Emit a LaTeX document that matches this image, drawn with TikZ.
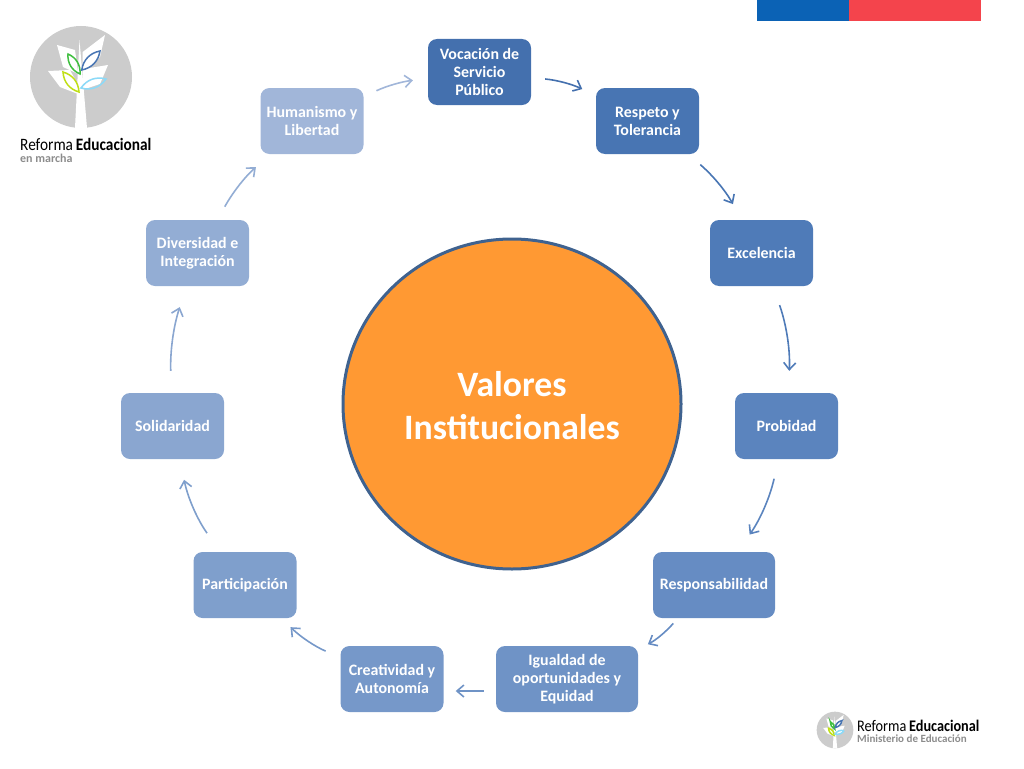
\documentclass[tikz,border=0pt]{standalone}
\usepackage{fontspec}
\setmainfont{Carlito}
\newfontfamily\logofont[FakeStretch=0.88]{Carlito}
\usetikzlibrary{arrows.meta,shapes.geometric}
\definecolor{naranja}{HTML}{FF9933}
\definecolor{borde}{HTML}{3F628F}
\definecolor{gris}{HTML}{CCCCCC}
\definecolor{grislogo}{HTML}{8C8C8C}
\definecolor{c0}{HTML}{4470AE}
\definecolor{c1}{HTML}{4875B3}
\definecolor{c2}{HTML}{4F7BB8}
\definecolor{c3}{HTML}{5B84BE}
\definecolor{c4}{HTML}{668CC3}
\definecolor{c5}{HTML}{6F93C6}
\definecolor{c6}{HTML}{7698C9}
\definecolor{c7}{HTML}{7F9FCC}
\definecolor{c8}{HTML}{8AA6D0}
\definecolor{c9}{HTML}{93ADD4}
\definecolor{c10}{HTML}{A1B6D9}
\tikzset{
  valor/.style={rounded corners=9pt,minimum height=66pt,minimum width=103pt,inner sep=0pt,
    text=white,align=center,font=\fontsize{15.9}{18}\selectfont\bfseries},
  flecha/.style={-{Straight Barb[length=7pt,width=12pt]},line width=1.6pt},
  arbol/.pic={
    \fill[gris] (0,0) circle (51);
    \fill[white] (-6,51) -- (-1.5,-37) -- (6,51) -- cycle;
    \fill[white] (1.7,-3) -- (1.7,-25) -- (24,-42) -- (19,-20) -- cycle;
    \fill[white] (-2.7,-3) -- (-18,-10) -- (-24,-32) -- (-6,-27) -- cycle;
    \fill[white] (2.3,-8) -- (27,-12) -- (19,7) -- (0.7,13) -- cycle;
    \fill[white] (-33,-6) -- (-11,-7) -- (-3,8) -- (-3,17) -- (-21,10) -- cycle;
    \draw[green!50!gray,line width=1.5pt] (-13,-23) to[bend left=35] (-1,-3) to[bend left=35] cycle;
    \draw[c1,line width=1.5pt] (19,-26) to[bend left=35] (0.7,-7) to[bend left=35] cycle;
    \draw[yellow!75!green,line width=1.5pt] (-18,-5) to[bend left=35] (-2,15) to[bend left=35] cycle;
    \draw[cyan!45!white,line width=1.5pt] (25,2) to[bend left=35] (0,11) to[bend left=35] cycle;
  }
}
\begin{document}
\begin{tikzpicture}[x=1pt,y=-1pt]
\useasboundingbox (0,0) rectangle (1024,768);
% barra superior
\fill[fill={rgb,255:red,11;green,98;blue,181}] (757,0) rectangle (849,21);
\fill[fill={rgb,255:red,244;green,68;blue,76}] (849,0) rectangle (981,21);
% logos
\pic at (81,77) {arbol};
\node[anchor=base west,inner sep=0pt,font=\logofont\fontsize{17.4}{18}\selectfont] (LogoA) at (20,150) {Reforma\,\textbf{Educacional}};
\node[anchor=base west,inner sep=0pt,text=grislogo,font=\fontsize{12}{12}\selectfont\bfseries] (LogoB) at (20,162) {en marcha};
\pic[scale=.36] at (835,730) {arbol};
\node[anchor=base west,inner sep=0pt,font=\logofont\fontsize{16.2}{18}\selectfont] (LogoC) at (857,731) {Reforma\,\textbf{Educacional}};
\node[anchor=base west,inner sep=0pt,text=grislogo,font=\fontsize{11}{12}\selectfont\bfseries] (LogoD) at (857,742) {Ministerio de Educación};
% centro
\node[draw=borde,fill=naranja,ellipse,line width=3pt,minimum width=338pt,minimum height=330pt,inner sep=0pt] (C) at (512,404) {};
\node[text=white,align=center,font=\fontsize{35.7}{43}\selectfont\bfseries] (CT) at (512,406) {Valores\\Institucionales};
% valores
\node[valor,fill=c0] (V0) at (479.5,72) {Vocación de\\Servicio\\Público};
\node[valor,fill=c1] (V1) at (647.5,121) {Respeto y\\Tolerancia};
\node[valor,fill=c2] (V2) at (761.5,253) {Excelencia};
\node[valor,fill=c3] (V3) at (786.5,426) {Probidad};
\node[valor,fill=c4,minimum width=122pt] (V4) at (714,585) {Responsabilidad};
\node[valor,fill=c5,minimum width=142pt] (V5) at (567,679) {Igualdad de\\oportunidades y\\Equidad};
\node[valor,fill=c6] (V6) at (392,679) {Creatividad y\\Autonomía};
\node[valor,fill=c7] (V7) at (245,585) {Participación};
\node[valor,fill=c8] (V8) at (172.5,426) {Solidaridad};
\node[valor,fill=c9] (V9) at (197.5,253) {Diversidad e\\Integración};
\node[valor,fill=c10] (V10) at (312,121) {Humanismo y\\Libertad};
% flechas
\draw[flecha,c0,shorten <=14pt,shorten >=15pt] (V0) to[bend left=10] (V1);
\draw[flecha,c1,shorten <=16pt,shorten >=18pt] (V1) to[bend left=10] (V2);
\draw[flecha,c2,shorten <=20pt,shorten >=22pt] (V2) to[bend left=11] (V3);
\draw[flecha,c3,shorten <=20pt,shorten >=21pt] (V3) to[bend left=11] (V4);
\draw[flecha,c4,shorten <=7pt,shorten >=11pt] (V4) to[bend left=10] (V5);
\draw[flecha,c5,shorten <=12pt,shorten >=12pt] ([yshift=-12pt]V5.west) to ([yshift=-12pt]V6.east);
\draw[flecha,c6,shorten <=16pt,shorten >=13pt] (V6) to[bend left=10] (V7);
\draw[flecha,c7,shorten <=23pt,shorten >=21pt] (V7) to[bend left=12] (V8);
\draw[flecha,c8,shorten <=22pt,shorten >=22pt] (V8) to[bend left=10] (V9);
\draw[flecha,c9,shorten <=15pt,shorten >=20pt] (V9) to[bend left=10] (V10);
\draw[flecha,c10,shorten <=14pt,shorten >=15pt] (V10) to[bend left=9] (V0);
\end{tikzpicture}
\end{document}
